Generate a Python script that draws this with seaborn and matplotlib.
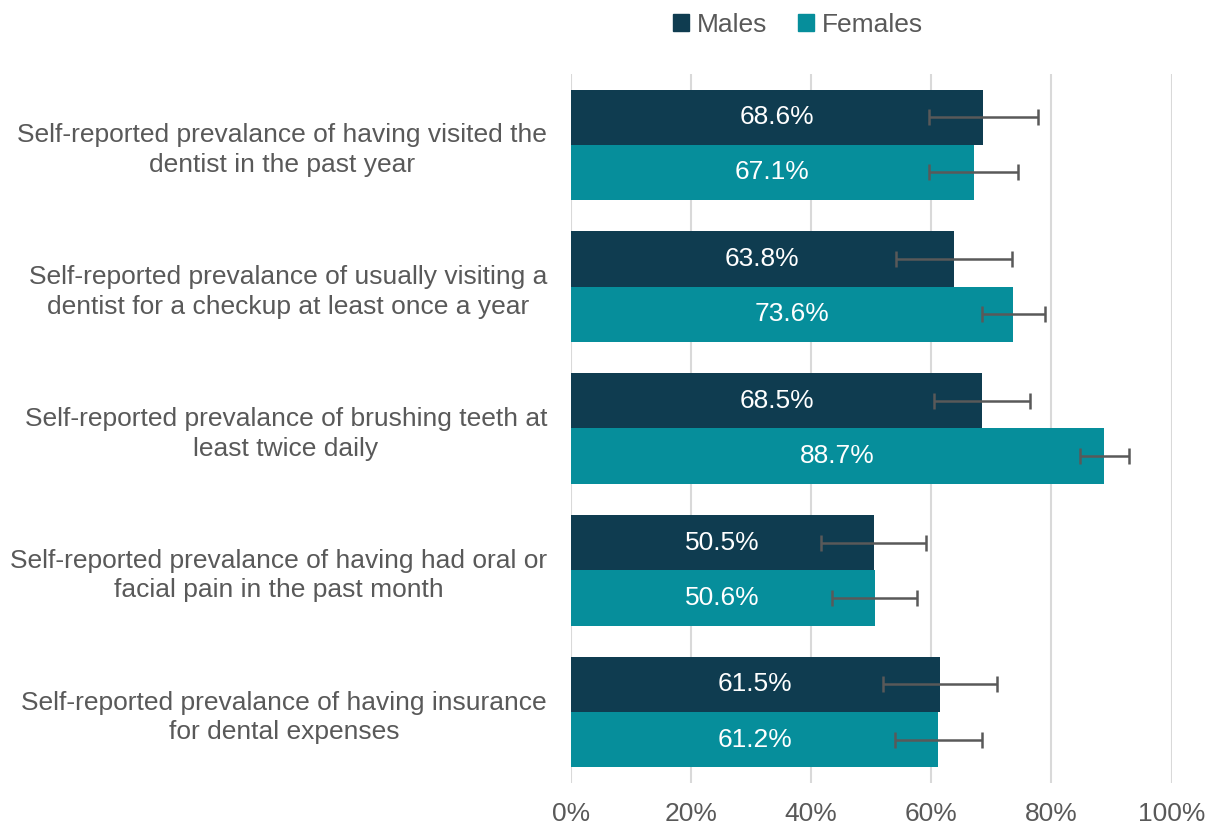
import pandas as pd
import seaborn as sns
import matplotlib.pyplot as plt

categories = ['Self-reported prevalance of having visited the\ndentist in the past year',
              'Self-reported prevalance of usually visiting a\ndentist for a checkup at least once a year',
              'Self-reported prevalance of brushing teeth at\nleast twice daily',
              'Self-reported prevalance of having had oral or\nfacial pain in the past month',
              'Self-reported prevalance of having insurance\nfor dental expenses']
males = [68.6, 63.8, 68.5, 50.5, 61.5]
females = [67.1, 73.6, 88.7, 50.6, 61.2]
males_lo = [59.6, 54.2, 60.5, 41.6, 52.0]
males_hi = [77.7, 73.5, 76.5, 59.2, 71.0]
females_lo = [59.7, 68.4, 84.7, 43.5, 54.0]
females_hi = [74.5, 79.0, 92.9, 57.6, 68.5]

df = pd.DataFrame({
    'category': categories * 2,
    'sex': ['Males'] * 5 + ['Females'] * 5,
    'value': males + females,
})

sns.set_style('white')
plt.rcParams['font.family'] = ['Liberation Sans', 'DejaVu Sans']
grey = '#595959'
fs = 19

fig = plt.figure(figsize=(12.09, 8.24), dpi=100)
ax = fig.add_axes([0.472, 0.0498, 0.497, 0.8605])
ax = sns.barplot(data=df, y='category', x='value', hue='sex', order=categories,
                 hue_order=['Males', 'Females'], palette=['#0f3c50', '#068e9b'],
                 saturation=1, width=0.78, orient='h', ax=ax, legend=False, linewidth=0)

lows = [males_lo, females_lo]
highs = [males_hi, females_hi]
vals = [males, females]
bar_conts = list(ax.containers)
for i, cont in enumerate(bar_conts):
    ys = [p.get_y() + p.get_height() / 2 for p in cont.patches]
    xerr = [[v - l for v, l in zip(vals[i], lows[i])],
            [h - v for v, h in zip(vals[i], highs[i])]]
    ax.errorbar(vals[i], ys, xerr=xerr, fmt='none', ecolor=grey, elinewidth=1.8,
                capsize=6, capthick=1.8, zorder=5)
    ax.bar_label(cont, labels=[f'{v:.1f}%' for v in vals[i]], label_type='center',
                 color='white', fontsize=fs)

ax.set_xlim(0, 100)
ax.set_ylim(4.5, -0.5)
ax.set_xticks(range(0, 101, 20))
ax.set_xticklabels([f'{t}%' for t in range(0, 101, 20)])
ax.set(xlabel=None, ylabel=None)
ax.grid(axis='x', color='#d9d9d9', linewidth=1.5)
ax.set_axisbelow(True)
sns.despine(ax=ax, left=True, bottom=True)
ax.tick_params(axis='x', length=0, labelsize=fs, labelcolor=grey, pad=14)
ax.tick_params(axis='y', length=0, labelsize=fs, labelcolor=grey, pad=17)
for lab in ax.get_yticklabels():
    lab.set_multialignment('center')
    lab.set_linespacing(1.3)

handles = [plt.Rectangle((0, 0), 1, 1, color='#0f3c50'),
           plt.Rectangle((0, 0), 1, 1, color='#068e9b')]
fig.legend(handles, ['Males', 'Females'], loc='center', bbox_to_anchor=(798 / 1209, 1 - 25 / 824),
           ncol=2, frameon=False, fontsize=fs, labelcolor=grey, handlelength=0.6,
           handleheight=0.6, handletextpad=0.3, columnspacing=1.2)

plt.savefig('out.png', dpi=100)
